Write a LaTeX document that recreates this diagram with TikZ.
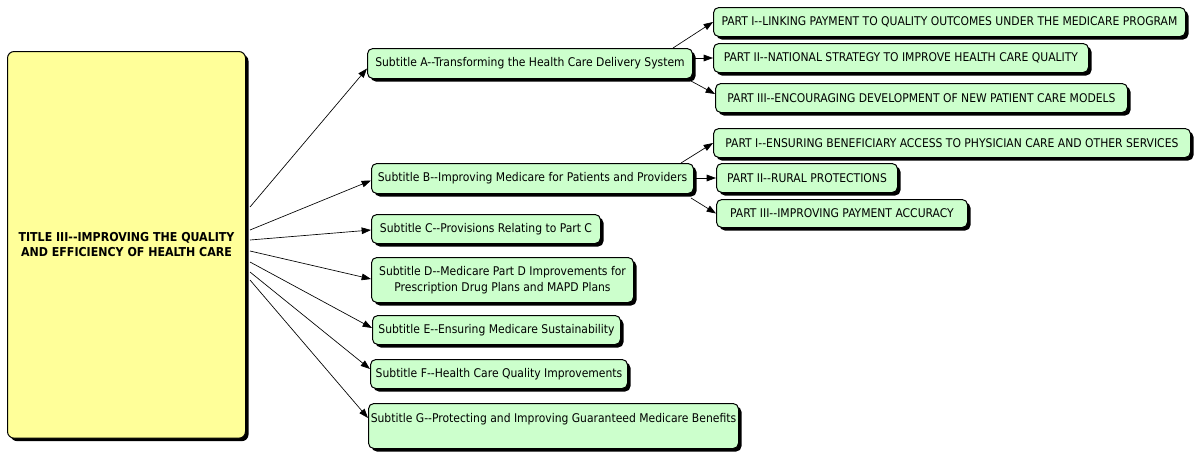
\documentclass[tikz,border=0pt]{standalone}
\usepackage{fontspec}
\setmainfont{DejaVu Sans Condensed}[Ligatures=TeXOff]
\usetikzlibrary{arrows.meta,shadows,calc}
\definecolor{titleyellow}{RGB}{255,255,153}
\definecolor{boxgreen}{RGB}{204,255,204}
\begin{document}
\begin{tikzpicture}[x=0.75pt,y=-0.75pt,
    box/.style={draw=black,line width=0.75pt,rounded corners=4pt,fill=boxgreen,
      anchor=north west,inner sep=0pt,align=center,font=\fontsize{9}{12}\selectfont,
      drop shadow={shadow xshift=2.25pt,shadow yshift=-2.25pt,fill=black,opacity=1}},
    titlebox/.style={box,fill=titleyellow,rounded corners=5pt,font=\fontsize{9.2}{11.25}\selectfont\bfseries},
    arr/.style={-{Triangle[length=7pt,width=5pt]},line width=0.5pt}]
  \useasboundingbox (0,0) rectangle (1202,451);
  % title
  \node[titlebox,minimum width=178.5pt,minimum height=290pt] (title) at (7,51)
    {TITLE III--IMPROVING THE QUALITY\\AND EFFICIENCY OF HEALTH CARE};
  % subtitles
  \node[box,minimum width=243.75pt,minimum height=22.5pt] (subA) at (367,48) {Subtitle A--Transforming the Health Care Delivery System};
  \node[box,minimum width=241.5pt,minimum height=22.5pt] (subB) at (371,163) {Subtitle B--Improving Medicare for Patients and Providers};
  \node[box,minimum width=171.75pt,minimum height=21.75pt] (subC) at (371,214) {Subtitle C--Provisions Relating to Part C};
  \node[box,minimum width=196.5pt,minimum height=33.75pt] (subD) at (371,257) {Subtitle D--Medicare Part D Improvements for\\Prescription Drug Plans and MAPD Plans};
  \node[box,minimum width=186pt,minimum height=21.75pt] (subE) at (372,315) {Subtitle E--Ensuring Medicare Sustainability};
  \node[box,minimum width=192.75pt,minimum height=21.75pt] (subF) at (370,359) {Subtitle F--Health Care Quality Improvements};
  \node[box,minimum width=277.5pt,minimum height=33.75pt] (subG) at (368,403) {Subtitle G--Protecting and Improving Guaranteed Medicare Benefits\\\mbox{}};
  % parts of subtitle A
  \node[box,minimum width=354pt,minimum height=21.75pt] (aI) at (713,7) {PART I--LINKING PAYMENT TO QUALITY OUTCOMES UNDER THE MEDICARE PROGRAM};
  \node[box,minimum width=281.25pt,minimum height=21.75pt] (aII) at (713,43) {PART II--NATIONAL STRATEGY TO IMPROVE HEALTH CARE QUALITY};
  \node[box,minimum width=309pt,minimum height=21.75pt] (aIII) at (715,83) {PART III--ENCOURAGING DEVELOPMENT OF NEW PATIENT CARE MODELS};
  % parts of subtitle B
  \node[box,minimum width=357.75pt,minimum height=21.75pt] (bI) at (713,128) {PART I--ENSURING BENEFICIARY ACCESS TO PHYSICIAN CARE AND OTHER SERVICES};
  \node[box,minimum width=135.75pt,minimum height=21.75pt] (bII) at (716,163) {PART II--RURAL PROTECTIONS};
  \node[box,minimum width=188.25pt,minimum height=21pt] (bIII) at (716,199) {PART III--IMPROVING PAYMENT ACCURACY};
  % title to subtitles
  \foreach \y/\t/\d in {207/subA/5,230/subB/2,240/subC/1,251/subD/-1,262/subE/-2,272/subF/-5,280/subG/-8}
    \draw[arr] ($(title.east |- 0,\y)+(4,0)$) -- ($(\t.west)+(0,\d)$);
  % subtitles to parts
  \draw[arr] ($(subA.north east)+(-20,0)$) -- (aI.west);
  \draw[arr] (subA.east |- aII.west) -- (aII.west);
  \draw[arr] ($(subA.south east)+(-2,2)$) -- ($(aIII.west)+(0,-4)$);
  \draw[arr] ($(subB.north east)+(-13,0)$) -- (bI.west);
  \draw[arr] (subB.east |- bII.west) -- (bII.west);
  \draw[arr] ($(subB.south east)+(-3,4)$) -- (bIII.west);
\end{tikzpicture}
\end{document}
